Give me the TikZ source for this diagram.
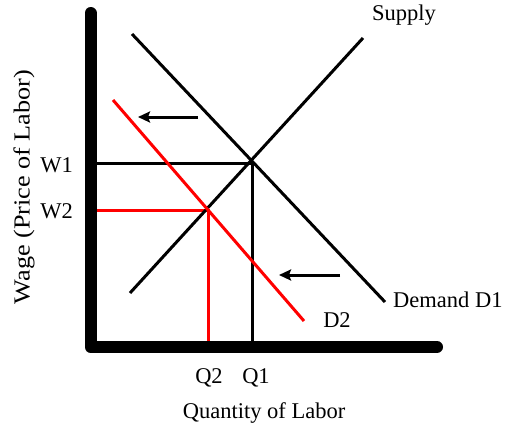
\documentclass[tikz,border=0pt]{standalone}
\usepackage{fontspec}
\setmainfont{Liberation Serif}
\usetikzlibrary{arrows.meta}
\definecolor{redline}{RGB}{255,0,0}
\begin{document}
\begin{tikzpicture}[x=1pt,y=-1pt,
  axisline/.style={line width=12pt,line cap=round,line join=round},
  curve/.style={line width=3pt},
  redcurve/.style={line width=3pt,draw=redline},
  guide/.style={line width=3pt},
  redguide/.style={line width=3pt,draw=redline},
  shiftarrow/.style={line width=3pt,-{Stealth[length=12pt,width=11pt,inset=2pt]}},
  lbl/.style={font=\fontsize{22.5}{26}\selectfont,inner sep=0pt}]
\useasboundingbox (0,0) rectangle (509,434);
% coordinates
\coordinate (ytop) at (90.5,13);
\coordinate (orig) at (90.5,347);
\coordinate (xend) at (437,347);
\coordinate (d1a) at (132,34);
\coordinate (d1b) at (385,302);
\coordinate (sa) at (130,293);
\coordinate (sb) at (363,38);
\coordinate (d2a) at (113,100);
\coordinate (d2b) at (304,321);
\coordinate (e1) at (252.5,163);
\coordinate (e2) at (208.5,210);
\coordinate (w1) at (90.5,163);
\coordinate (w2) at (90.5,210);
\coordinate (q1) at (252.5,347);
\coordinate (q2) at (208.5,347);
\coordinate (a1s) at (198,117);
\coordinate (a1e) at (138,117);
\coordinate (a2s) at (340,275);
\coordinate (a2e) at (279,275);
% guides
\draw[guide] (w1) -- (e1) -- (q1);
\draw[redguide] (w2) -- (e2) -- (q2);
% curves
\draw[curve] (d1a) -- (d1b);
\draw[curve] (sa) -- (sb);
\draw[redcurve] (d2a) -- (d2b);
% axes
\draw[axisline] (ytop) -- (orig) -- (xend);
% arrows
\draw[shiftarrow] (a1s) -- (a1e);
\draw[shiftarrow] (a2s) -- (a2e);
% labels
\node[lbl] (supply) at (404,15) {Supply};
\node[lbl,anchor=west] (dem1) at (393,300) {Demand D1};
\node[lbl] (dem2) at (337,320) {D2};
\node[lbl,anchor=east] (lw1) at (73,165) {W1};
\node[lbl,anchor=east] (lw2) at (73,211) {W2};
\node[lbl] (lq2) at (209,378) {Q2};
\node[lbl] (lq1) at (256,378) {Q1};
\node[lbl] (xlab) at (264,413) {Quantity of Labor};
\node[lbl,font=\fontsize{23}{27}\selectfont,rotate=90] (ylab) at (24,187) {\scalebox{1.14}[1]{Wage (Price of Labor)}};
\end{tikzpicture}
\end{document}
